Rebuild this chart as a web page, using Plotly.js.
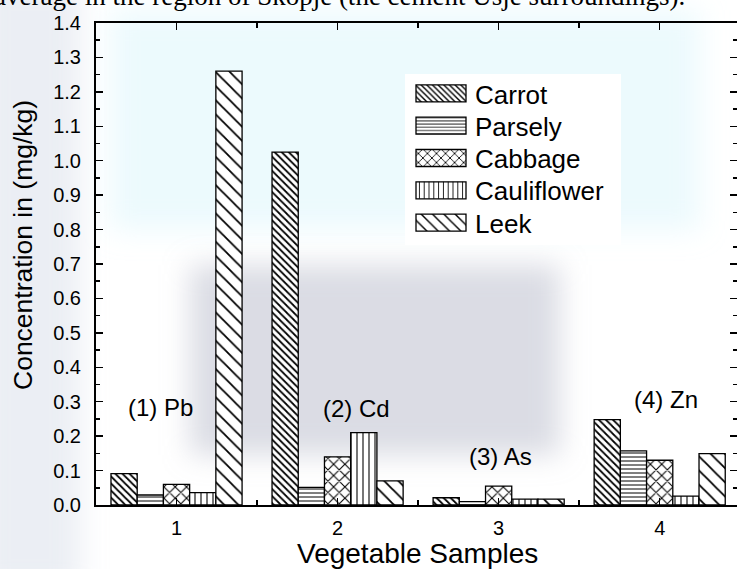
<!DOCTYPE html>
<html>
<head>
<meta charset="utf-8">
<script src="https://cdn.plot.ly/plotly-3.0.1.min.js"></script>
<style>html,body{margin:0;padding:0;background:#fff;}#chart{width:737px;height:569px;}</style>
</head>
<body>
<div id="chart"></div>
<script>
// ---- data ----
const samples = [1, 2, 3, 4];
const sampleTickLabels = ['1', '2', '3', '4'];
const carrot      = [0.091, 1.025, 0.021, 0.248];
const parsely     = [0.029, 0.051, 0.010, 0.157];
const cabbage     = [0.060, 0.140, 0.055, 0.130];
const cauliflower = [0.036, 0.210, 0.017, 0.026];
const leek        = [1.260, 0.070, 0.017, 0.149];
const seriesNames = ['Carrot', 'Parsely', 'Cabbage', 'Cauliflower', 'Leek'];
const elementLabels = ['(1) Pb', '(2) Cd', '(3) As', '(4) Zn'];
const labelX = [0.90, 2.115, 3.01, 4.04];
const labelY = [0.284, 0.281, 0.140, 0.307];

const seriesValues = [carrot, parsely, cabbage, cauliflower, leek];
const patterns = [
  {shape: '\\', size: 5, solidity: 0.35},
  {shape: '-', size: 4, solidity: 0.25},
  {shape: 'x', size: 8, solidity: 0.25},
  {shape: '|', size: 6, solidity: 0.18},
  {shape: '\\', size: 10, solidity: 0.18}
];

const FONT = 'Liberation Sans, Arial, Helvetica, sans-serif';

// pixel helpers for decorative background (plot area: x 96..737, y 23..505)
const px = v => (v - 96) / 641;
const py = v => (505 - v) / 482;

const traces = seriesNames.map((name, i) => ({
  type: 'bar',
  name: name,
  x: samples,
  y: seriesValues[i],
  marker: {
    color: 'white',
    line: {color: 'black', width: 1.3},
    pattern: Object.assign({fgcolor: 'black', bgcolor: 'white', fillmode: 'replace'}, patterns[i])
  }
}));

const annotations = elementLabels.map((t, i) => ({
  text: t, x: labelX[i], y: labelY[i], xref: 'x', yref: 'y',
  showarrow: false, font: {family: FONT, size: 24, color: 'black'}
}));
annotations.push({
  text: 'average in the region of Skopje (the cement Usje surroundings).',
  xref: 'paper', yref: 'paper', x: px(-8), y: 1.057, xanchor: 'left', yanchor: 'middle',
  showarrow: false, font: {family: 'Liberation Serif, Times New Roman, serif', size: 27, color: 'black'}
});
annotations.push({
  text: 'Concentration in (mg/kg)', textangle: -90,
  xref: 'paper', yref: 'paper', x: px(23), y: py(245), xanchor: 'center', yanchor: 'middle',
  showarrow: false, font: {family: FONT, size: 26.5, color: 'black'}
});
annotations.push({
  text: 'Vegetable Samples',
  xref: 'paper', yref: 'paper', x: px(418), y: py(553), xanchor: 'center', yanchor: 'middle',
  showarrow: false, font: {family: FONT, size: 28, color: 'black'}
});

const shapes = [
  {type: 'rect', xref: 'paper', yref: 'paper', x0: px(-20), x1: px(80), y0: py(590), y1: py(-20),
   fillcolor: 'rgba(190,200,220,0.30)', line: {width: 0}, layer: 'below'},
  {type: 'rect', xref: 'paper', yref: 'paper', x0: px(110), x1: px(700), y0: py(230), y1: py(10),
   fillcolor: 'rgba(200,240,250,0.35)', line: {width: 0}, layer: 'below'},
  {type: 'rect', xref: 'paper', yref: 'paper', x0: px(190), x1: px(560), y0: py(455), y1: py(265),
   fillcolor: 'rgba(175,178,195,0.45)', line: {width: 0}, layer: 'below'}
];

const layout = {
  width: 737, height: 569, autosize: false,
  margin: {l: 96, r: 0, t: 23, b: 64, pad: 0},
  paper_bgcolor: 'white', plot_bgcolor: 'rgba(0,0,0,0)',
  font: {family: FONT, color: 'black'},
  barmode: 'group', bargap: 0.186, bargroupgap: 0,
  showlegend: true,
  legend: {
    x: px(405), y: py(74), xanchor: 'left', yanchor: 'top',
    bgcolor: 'white', borderwidth: 0, font: {family: FONT, size: 26, color: 'black'},
    tracegroupgap: 0, itemwidth: 60
  },
  xaxis: {
    range: [0.5, 4.48], tickvals: samples, ticktext: sampleTickLabels,
    ticks: 'inside', ticklen: 7, tickwidth: 1.5, tickcolor: 'black',
    showline: true, linewidth: 2, linecolor: 'black', mirror: 'ticks',
    showgrid: false, zeroline: false,
    tickfont: {family: FONT, size: 20}, ticklabelstandoff: 4,
    minor: {dtick: 0.5, tick0: 0.5, ticks: 'inside', ticklen: 5, tickwidth: 1.5, tickcolor: 'black', showgrid: false}
  },
  yaxis: {
    range: [0, 1.4], dtick: 0.1, tick0: 0, tickformat: '.1f',
    ticks: 'inside', ticklen: 7, tickwidth: 1.5, tickcolor: 'black',
    showline: true, linewidth: 2, linecolor: 'black', mirror: 'ticks',
    showgrid: false, zeroline: false,
    tickfont: {family: FONT, size: 20}, ticklabelstandoff: 9,
    minor: {dtick: 0.05, ticks: 'inside', ticklen: 4, tickwidth: 1.5, tickcolor: 'black', showgrid: false}
  },
  shapes: shapes,
  annotations: annotations
};

Plotly.newPlot('chart', traces, layout, {staticPlot: true, displayModeBar: false}).then(function (gd) {
  const NS = 'http://www.w3.org/2000/svg';
  // soft blur for the faint watermark-like background
  const svg = gd.querySelector('svg.main-svg');
  let defs = svg.querySelector('defs');
  if (!defs) { defs = document.createElementNS(NS, 'defs'); svg.insertBefore(defs, svg.firstChild); }
  const filt = document.createElementNS(NS, 'filter');
  filt.setAttribute('id', 'softbg');
  filt.setAttribute('x', '-30%'); filt.setAttribute('y', '-30%');
  filt.setAttribute('width', '160%'); filt.setAttribute('height', '160%');
  const blur = document.createElementNS(NS, 'feGaussianBlur');
  blur.setAttribute('stdDeviation', '14');
  filt.appendChild(blur);
  defs.appendChild(filt);
  gd.querySelectorAll('.layer-below .shapelayer path').forEach(function (p) {
    p.setAttribute('filter', 'url(#softbg)');
  });

  // legend: wide swatches and tighter row spacing like the reference
  const items = Array.prototype.slice.call(gd.querySelectorAll('.legend .traces'));
  let x0 = 0, y0 = 0;
  items.forEach(function (g, i) {
    const m = /translate\(\s*([-\d.]+)[ ,]+([-\d.]+)/.exec(g.getAttribute('transform') || '');
    if (i === 0 && m) { x0 = parseFloat(m[1]); y0 = parseFloat(m[2]) - 4; }
    if (m) g.setAttribute('transform', 'translate(' + x0 + ',' + (y0 + i * 32.3) + ')');
    const txt = g.querySelector('text.legendtext');
    const tx = txt ? parseFloat(txt.getAttribute('x')) : 70;
    g.querySelectorAll('.legendpoints path').forEach(function (p) {
      p.setAttribute('d', 'M25,8.5H-25V-8.5H25Z');
      p.setAttribute('transform', 'translate(' + (tx - 9 - 25) + ',0)');
    });
  });
  const bg = gd.querySelector('.legend rect.bg');
  if (bg) { bg.setAttribute('width', '216'); bg.setAttribute('height', '171'); }
});
</script>
</body>
</html>
